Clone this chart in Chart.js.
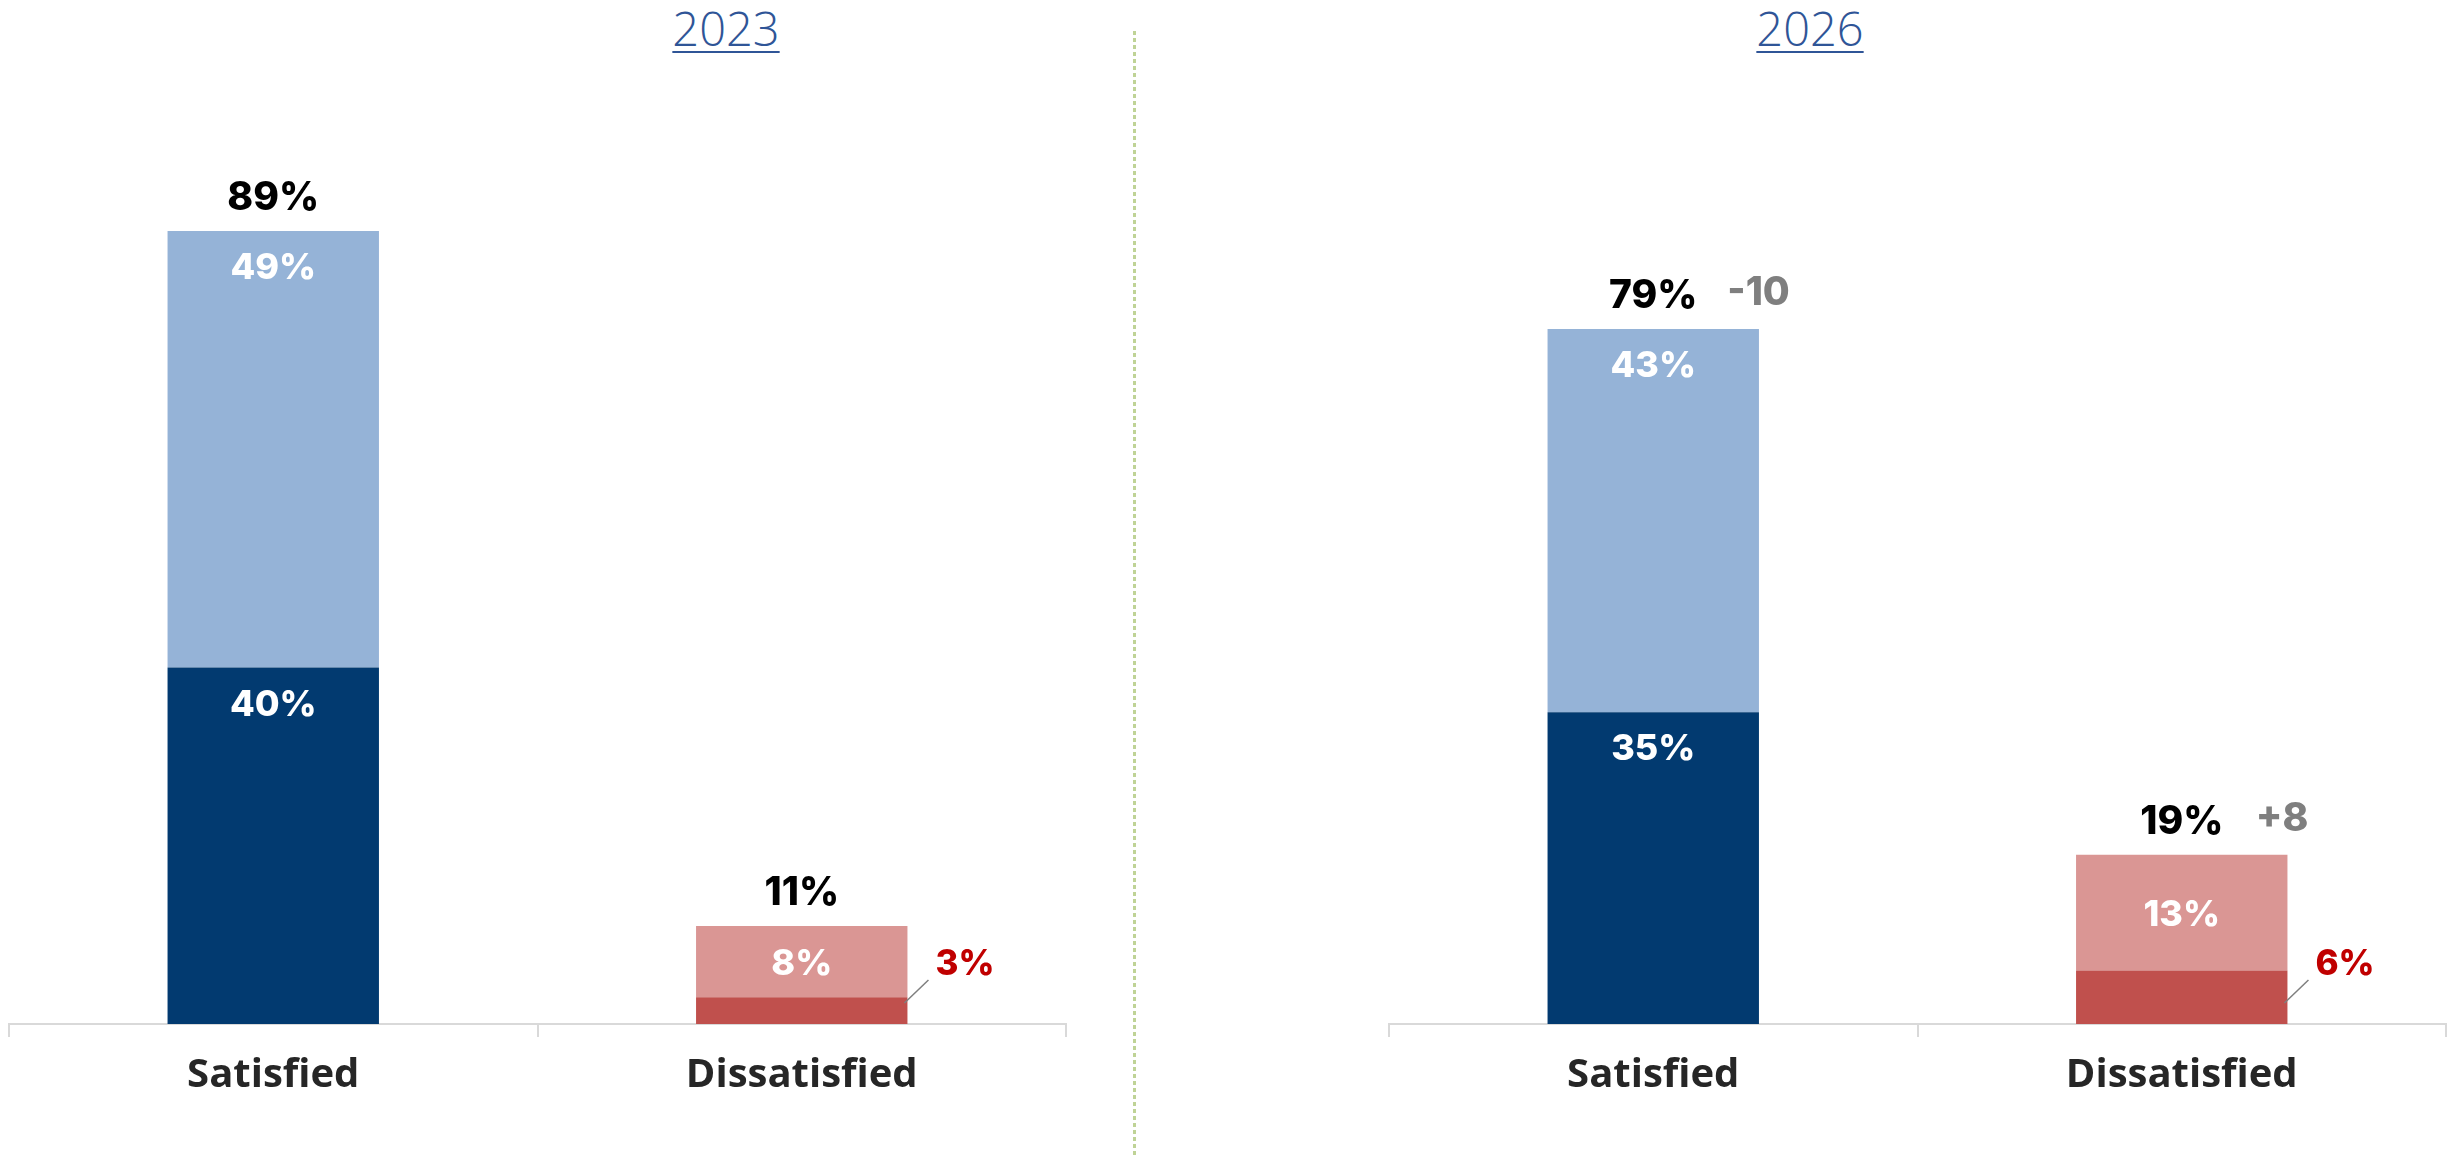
<!DOCTYPE html>
<html>
<head>
<meta charset="utf-8">
<script src="https://cdn.jsdelivr.net/npm/chart.js@4.4.1/dist/chart.umd.min.js"></script>
<style>
  html, body { margin: 0; padding: 0; background: #fff; }
  body { width: 2447px; height: 1155px; position: relative; overflow: hidden; }
  .panel { position: absolute; top: 0; height: 1155px; }
  #panel2023 { left: 0; width: 1075px; }
  #panel2026 { left: 1380px; width: 1067px; }
  .year {
    position: absolute; top: -4px; transform: translateX(-50%);
    font-family: 'Open Sans', sans-serif; font-weight: 300; font-size: 47px;
    color: #2F5597; text-decoration: underline; text-decoration-thickness: 2px;
    text-underline-offset: 5px; white-space: nowrap;
  }
  #divider {
    position: absolute; left: 1133px; top: 31px; width: 3px; height: 1124px;
    background: repeating-linear-gradient(to bottom, #BFD396 0 4px, transparent 4px 7px);
  }
</style>
</head>
<body>
<div class="year" style="left: 726px">2023</div>
<div class="year" style="left: 1810px">2026</div>
<div id="divider"></div>
<div class="panel" id="panel2023"><canvas id="chart2023"></canvas></div>
<div class="panel" id="panel2026"><canvas id="chart2026"></canvas></div>

<script>
// survey results, % of respondents
const categories = ['Satisfied', 'Dissatisfied'];
const strong2023 = [40, 3];   // very satisfied / very dissatisfied
const mild2023 = [49, 8];     // somewhat satisfied / somewhat dissatisfied
const total2023 = [89, 11];
const strong2026 = [35, 6];
const mild2026 = [43, 13];
const total2026 = [79, 19];
const change2026 = ['-10', '+8'];

const strongColors = ['#023A70', '#C0504D'];
const mildColors = ['#95B3D7', '#DA9694'];

const numFont = "Inter, 'DejaVu Sans', sans-serif";

// draws the segment values, totals and change vs. previous wave
const barLabels = {
  id: 'barLabels',
  afterDatasetsDraw(chart, args, opts) {
    const ctx = chart.ctx;
    const axisY = chart.scales.y.getPixelForValue(0);
    const strongMeta = chart.getDatasetMeta(0);
    const mildMeta = chart.getDatasetMeta(1);
    ctx.save();
    ctx.textAlign = 'center';
    ctx.textBaseline = 'alphabetic';

    categories.forEach((cat, i) => {
      const strongBar = strongMeta.data[i];
      const mildBar = mildMeta.data[i];
      const right = strongBar.x + strongBar.width / 2;
      const segs = [
        { bar: strongBar, value: chart.data.datasets[0].data[i] },
        { bar: mildBar, value: chart.data.datasets[1].data[i] }
      ];

      segs.forEach(seg => {
        const top = seg.bar.y;
        const bottom = seg.bar.base;
        const h = bottom - top;
        if (h < 60) {
          // thin segment: label sits outside with a leader line
          ctx.strokeStyle = '#7F7F7F';
          ctx.lineWidth = 1.5;
          ctx.beginPath();
          ctx.moveTo(right - 3, axisY - 21);
          ctx.lineTo(right + 21, axisY - 44);
          ctx.stroke();
          ctx.font = '800 35px ' + numFont;
          ctx.fillStyle = '#C00000';
          ctx.textAlign = 'left';
          ctx.fillText(seg.value + '%', right + 28, axisY - 49);
          ctx.textAlign = 'center';
        } else {
          ctx.font = '800 36px ' + numFont;
          ctx.fillStyle = '#FFFFFF';
          const y = h < 150 ? (top + bottom) / 2 + 13 : top + 48;
          ctx.fillText(seg.value + '%', seg.bar.x, y);
        }
      });

      const top = mildBar.y;
      ctx.font = '800 39px ' + numFont;
      ctx.fillStyle = '#000000';
      ctx.fillText(opts.totals[i] + '%', mildBar.x, top - 21);

      if (opts.changes) {
        ctx.font = '800 39px ' + numFont;
        ctx.fillStyle = '#7F7F7F';
        ctx.textAlign = 'left';
        ctx.fillText(opts.changes[i], mildBar.x + 74, top - 24);
        ctx.textAlign = 'center';
      }
    });
    ctx.restore();
  }
};

function makeChart(id, strong, mild, totals, changes, padLeft, padRight) {
  return new Chart(document.getElementById(id), {
    type: 'bar',
    data: {
      labels: categories,
      datasets: [
        { data: strong, backgroundColor: strongColors, borderWidth: 0 },
        { data: mild, backgroundColor: mildColors, borderWidth: 0 }
      ]
    },
    options: {
      responsive: true,
      maintainAspectRatio: false,
      animation: false,
      events: [],
      layout: { padding: { top: 133, left: padLeft, right: padRight, bottom: 0 } },
      datasets: { bar: { categoryPercentage: 1, barPercentage: 0.4 } },
      scales: {
        x: {
          stacked: true,
          afterFit: s => { s.height = 131; },
          grid: {
            offset: true, drawOnChartArea: false, drawTicks: true,
            tickLength: 13, color: '#D9D9D9', lineWidth: 2
          },
          border: { display: true, color: '#D9D9D9', width: 2 },
          ticks: {
            padding: 15, color: '#262626',
            font: { family: "'Open Sans', sans-serif", weight: 'bold', size: 40 }
          }
        },
        y: { stacked: true, display: false, min: 0, max: 100 }
      },
      plugins: {
        legend: { display: false },
        tooltip: { enabled: false },
        barLabels: { totals: totals, changes: changes }
      }
    },
    plugins: [barLabels]
  });
}

makeChart('chart2023', strong2023, mild2023, total2023, null, 9, 9);
makeChart('chart2026', strong2026, mild2026, total2026, change2026, 9, 1);
</script>
</body>
</html>
